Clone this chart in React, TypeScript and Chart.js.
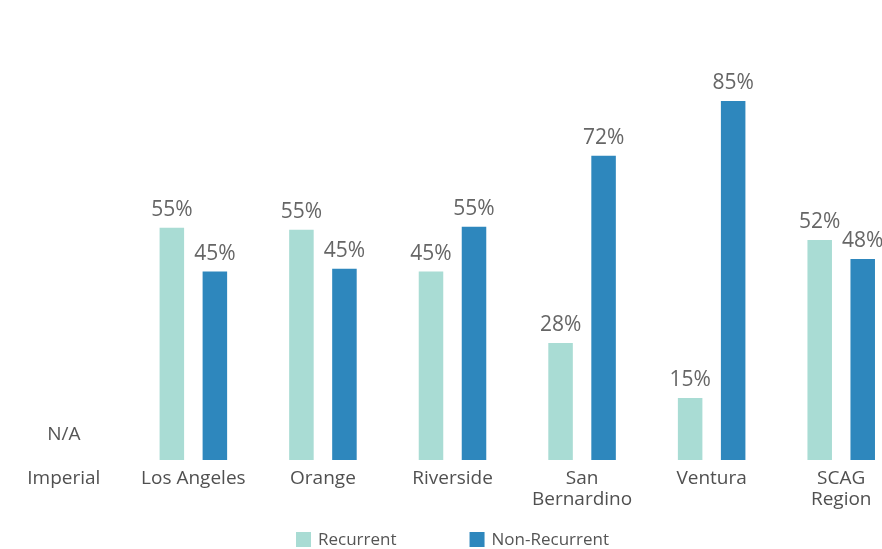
import { useEffect, useRef } from "react";
import { Chart, registerables } from "chart.js";

Chart.register(...registerables);

const categories: (string | string[])[] = [
  "Imperial",
  "Los Angeles",
  "Orange",
  "Riverside",
  ["San", "Bernardino"],
  "Ventura",
  ["SCAG", "Region"],
];
const recurrent: (number | null)[] = [null, 55.0, 54.5, 44.6, 27.7, 14.7, 52.1];
const nonRecurrent: (number | null)[] = [null, 44.6, 45.3, 55.2, 72.0, 85.0, 47.6];
const seriesNames = ["Recurrent", "Non-Recurrent"];
const naLabel = "N/A";

const COLORS = ["#a9dcd4", "#2e87bd"];
const FONT = "'Open Sans', sans-serif";
const CANVAS_W = 907;
const CANVAS_H = 549;

const labelPlugin = {
  id: "valueLabels",
  afterDatasetsDraw(chart: any) {
    const ctx = chart.ctx as CanvasRenderingContext2D;
    ctx.save();
    ctx.font = `21px ${FONT}`;
    ctx.fillStyle = "#666666";
    ctx.textAlign = "center";
    ctx.textBaseline = "alphabetic";
    chart.data.datasets.forEach((ds: any, di: number) => {
      const meta = chart.getDatasetMeta(di);
      meta.data.forEach((el: any, i: number) => {
        const v = ds.data[i];
        if (v == null) return;
        ctx.fillText(Math.round(v) + "%", el.x, el.y - 12);
      });
    });
    const xs = chart.scales.x;
    const ys = chart.scales.y;
    ctx.font = `19px ${FONT}`;
    ctx.fillStyle = "#555555";
    categories.forEach((_c, i) => {
      if (recurrent[i] == null && nonRecurrent[i] == null) {
        ctx.fillText(naLabel, xs.getPixelForValue(i), ys.getPixelForValue(0) - 20);
      }
    });

    // legend
    ctx.font = `17px ${FONT}`;
    ctx.textAlign = "left";
    ctx.textBaseline = "middle";
    const box = 15;
    const gap = 7;
    const spacing = 73;
    const widths = seriesNames.map((n) => box + gap + ctx.measureText(n).width);
    const total = widths.reduce((a, b) => a + b, 0) + spacing * (widths.length - 1);
    let x = chart.width / 2 - total / 2;
    const boxTop = 532;
    seriesNames.forEach((n, i) => {
      ctx.fillStyle = COLORS[i];
      ctx.fillRect(x, boxTop, box, box);
      ctx.fillStyle = "#555555";
      ctx.fillText(n, x + box + gap, boxTop + box / 2 + 1);
      x += widths[i] + spacing;
    });
    ctx.restore();
  },
};

export default function App() {
  const ref = useRef<HTMLCanvasElement | null>(null);
  useEffect(() => {
    if (!ref.current) return;
    const chart = new Chart(ref.current, {
      type: "bar",
      data: {
        labels: categories as any,
        datasets: [
          {
            label: seriesNames[0],
            data: recurrent,
            backgroundColor: COLORS[0],
            categoryPercentage: 0.664,
            barPercentage: 0.57,
          },
          {
            label: seriesNames[1],
            data: nonRecurrent,
            backgroundColor: COLORS[1],
            categoryPercentage: 0.664,
            barPercentage: 0.57,
          },
        ],
      },
      options: {
        responsive: false,
        animation: false,
        layout: { padding: { top: 37.6, left: 0, right: 0, bottom: 0 } },
        plugins: {
          legend: { display: false },
          tooltip: { enabled: false },
        },
        scales: {
          x: {
            grid: { display: false, drawTicks: false },
            border: { display: false },
            ticks: {
              color: "#505050",
              font: { family: FONT, size: 19, lineHeight: 1.1 },
              padding: 8,
              maxRotation: 0,
              autoSkip: false,
            },
            afterFit: (scale: any) => {
              scale.height = 89;
            },
          },
          y: {
            display: false,
            min: 0,
            max: 100,
          },
        },
      },
      plugins: [labelPlugin],
    });
    return () => chart.destroy();
  }, []);

  return (
    <div style={{ position: "fixed", left: 0, top: 0, width: 882, height: 549, overflow: "hidden", background: "#fff" }}>
      <canvas
        ref={ref}
        width={CANVAS_W}
        height={CANVAS_H}
        style={{ position: "absolute", left: -1, top: 0, width: CANVAS_W, height: CANVAS_H }}
      />
    </div>
  );
}
